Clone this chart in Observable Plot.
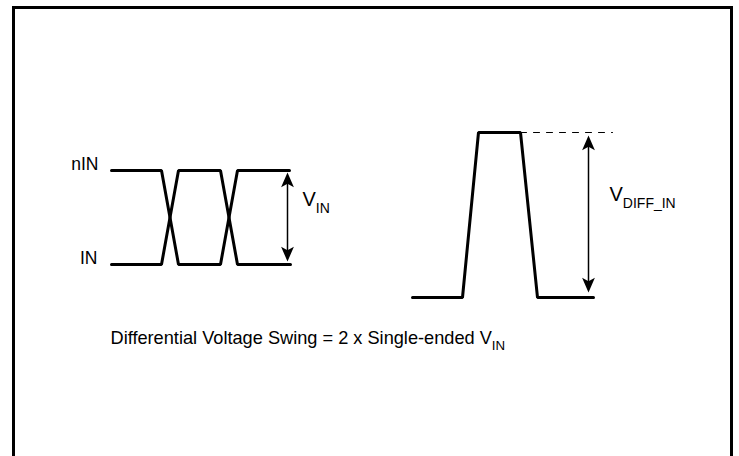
<!DOCTYPE html>
<html>
<head>
<meta charset="utf-8">
<script src="https://cdn.jsdelivr.net/npm/d3@7"></script>
<script src="https://cdn.jsdelivr.net/npm/@observablehq/plot@0.6"></script>
<style>
  html, body { margin: 0; padding: 0; background: #fff; }
  svg { display: block; }
</style>
</head>
<body>
<div id="chart"></div>
<script>
// Diagram coordinate units (x: time axis, y: level axis, top = 0)
const nInX = [111, 161, 178, 220, 237, 289];
const nInY = [170, 170, 264, 264, 170, 170];
const inX  = [111, 161, 178, 220, 237, 290];
const inY  = [264, 264, 170, 170, 264, 264];
const diffX = [412, 462, 478, 520, 537, 593];
const diffY = [297, 297, 132, 132, 297, 297];
const dashX = [520, 612];
const dashY = [132, 132];
// dimension arrows
const arrows = [
  {x: 287, y1: 172, y2: 261},
  {x: 588, y1: 135, y2: 292}
];
// labels
const signalLabels = [
  {x: 98, y: 169, text: "nIN"},
  {x: 97, y: 263, text: "IN"}
];
const swingLabels = [
  {x: 302, y: 205, text: "V", sub: "IN"},
  {x: 609, y: 200, text: "V", sub: "DIFF_IN"}
];
const captionLabels = [
  {x: 110, y: 343.5, text: "Differential Voltage Swing = 2 x Single-ended V", sub: "IN"}
];
const border = [{x1: 13.5, x2: 731.5, y1: 7.5, y2: 470}];

const toPts = (xs, ys) => xs.map((x, i) => ({x, y: ys[i]}));

const stealth = {
  draw(context, size) {
    const r = Math.sqrt(size / Math.PI);
    context.moveTo(0, 0);
    context.lineTo(r, 2.3 * r);
    context.lineTo(0, 1.75 * r);
    context.lineTo(-r, 2.3 * r);
    context.closePath();
  }
};

const heads = arrows.flatMap(a => [
  {x: a.x, y: a.y1, rot: 0},
  {x: a.x, y: a.y2, rot: 180}
]);

const font = "'Liberation Sans', Arial, Helvetica, sans-serif";

function textMark(data, anchor, size, subSize, subDy) {
  return Plot.text(data, {
    x: "x", y: "y", text: "text", textAnchor: anchor, lineAnchor: "bottom",
    fontSize: size, fill: "#000", fontFamily: font,
    render(index, scales, values, dimensions, context, next) {
      const g = next(index, scales, values, dimensions, context);
      d3.select(g).selectAll("text").each(function (i) {
        const d = data[i];
        if (d && d.sub) {
          d3.select(this).append("tspan")
            .attr("dy", subDy)
            .attr("font-size", subSize)
            .text(d.sub);
        }
      });
      return g;
    }
  });
}

const plot = Plot.plot({
  width: 739,
  height: 456,
  margin: 0,
  style: {fontFamily: font, background: "#fff", overflow: "hidden"},
  x: {domain: [0, 739], range: [0, 739], axis: null},
  y: {domain: [0, 456], range: [0, 456], axis: null},
  marks: [
    Plot.rect(border, {x1: "x1", x2: "x2", y1: "y1", y2: "y2", fill: "none", stroke: "#000", strokeWidth: 3}),
    Plot.line(toPts(nInX, nInY), {x: "x", y: "y", stroke: "#000", strokeWidth: 3, strokeLinejoin: "miter", curve: "linear"}),
    Plot.line(toPts(inX, inY), {x: "x", y: "y", stroke: "#000", strokeWidth: 3, strokeLinejoin: "miter", curve: "linear"}),
    Plot.line(toPts(diffX, diffY), {x: "x", y: "y", stroke: "#000", strokeWidth: 3, strokeLinejoin: "miter", curve: "linear"}),
    Plot.line(toPts(dashX, dashY), {x: "x", y: "y", stroke: "#000", strokeWidth: 1, strokeDasharray: "6,7"}),
    Plot.link(arrows, {x1: "x", x2: "x", y1: d => d.y1 + 8, y2: d => d.y2 - 8, stroke: "#000", strokeWidth: 1.5}),
    Plot.dot(heads, {x: "x", y: "y", r: 6.4, symbol: stealth, rotate: "rot", fill: "#000", stroke: "none"}),
    textMark(signalLabels, "end", 17.5, 0, 0),
    textMark(swingLabels, "start", 20, 14, 7.5),
    textMark(captionLabels, "start", 18.2, 13.3, 6)
  ]
});
document.getElementById("chart").appendChild(plot);
</script>
</body>
</html>
